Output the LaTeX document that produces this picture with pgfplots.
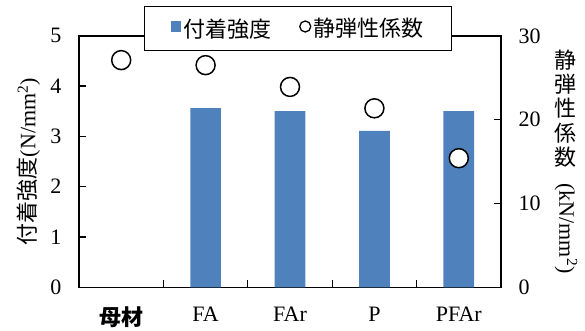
\documentclass[border=0pt]{standalone}
\usepackage{fontspec}
\setmainfont{Liberation Serif}
\newfontfamily\cjk{Noto Sans CJK JP}
\usepackage{graphicx}
\usepackage{pgfplots}
\pgfplotsset{compat=1.18}
\definecolor{barblue}{HTML}{4F81BD}

\newcommand\lbl{\fontsize{22}{23}\selectfont}

\pgfplotsset{
  common/.style={
    scale only axis, width=422pt, height=251.5pt,
    at={(79pt,43.7pt)}, anchor=south west,
    xmin=-0.5, xmax=4.5,
    tick align=inside, major tick length=7pt,
    /pgf/number format/assume math mode=true,
    axis line style={line width=1.5pt, black},
    every tick/.style={line width=1.3pt, black},
    tick label style={font=\lbl},
  }
}

\begin{document}
\begin{tikzpicture}
% left axis: bond strength (bars)
\begin{axis}[common,
  ymin=0, ymax=5, ytick={0,1,...,5}, ytick pos=left,
  xtick={0.5,1.5,2.5,3.5}, xticklabels={},
  xtick pos=bottom,
  extra x ticks={0,1,2,3,4},
  extra x tick labels={{\cjk\bfseries 母材},FA,FAr,P,PFAr},
  extra x tick style={major tick length=0pt, xticklabel style={yshift=-16pt}},
  yticklabel style={xshift=-14pt},
  ylabel={{\cjk 付着強度}(N/mm\textsuperscript{2})},
  every axis y label/.style={at={(axis description cs:-0.12,0.5)}, anchor=center, rotate=90, font=\lbl},
]
\addplot[ybar, bar width=30.7pt, fill=barblue, draw=none]
  coordinates {(1,3.56) (2,3.50) (3,3.11) (4,3.50)};
\end{axis}
% right axis: static elastic modulus (circles)
\begin{axis}[common,
  ymin=0, ymax=30, ytick={0,10,20,30},
  axis y line*=right, axis x line=none,
  yticklabel style={xshift=14pt},
  ylabel={\cjk\begin{tabular}{@{}c@{}}静\\[-1pt]弾\\[-1pt]性\\[-1pt]係\\[-1pt]数\\[-5pt]\rotatebox{-90}{\rmfamily(kN/mm\textsuperscript{2})}\end{tabular}},
  every axis y label/.style={at={(axis description cs:1.154,0.5)}, anchor=center, font=\lbl},
  legend style={at={(axis description cs:0.519,1.029)}, anchor=center,
    draw=black, line width=1.5pt, fill=white, font=\lbl,
    legend columns=2, inner xsep=26pt, inner ysep=10pt,
    /tikz/every even column/.append style={column sep=26pt}},
]
\addlegendimage{legend image code/.code={\fill[barblue] (0pt,-3pt) rectangle (9pt,7pt);}}
\addlegendentry{\cjk 付着強度}
\addplot[only marks, mark=*, mark size=9.5pt,
  mark options={line width=1.5pt, fill=white, draw=black},
  legend image code/.code={\draw[line width=1.3pt, fill=white] (5pt,2pt) circle (5.5pt);}]
  coordinates {(0,27.1) (1,26.5) (2,23.9) (3,21.35) (4,15.4)};
\addlegendentry{\cjk 静弾性係数}
\end{axis}
\pgfresetboundingbox
\useasboundingbox (0,0) rectangle (585pt,331pt);
\end{tikzpicture}
\end{document}
